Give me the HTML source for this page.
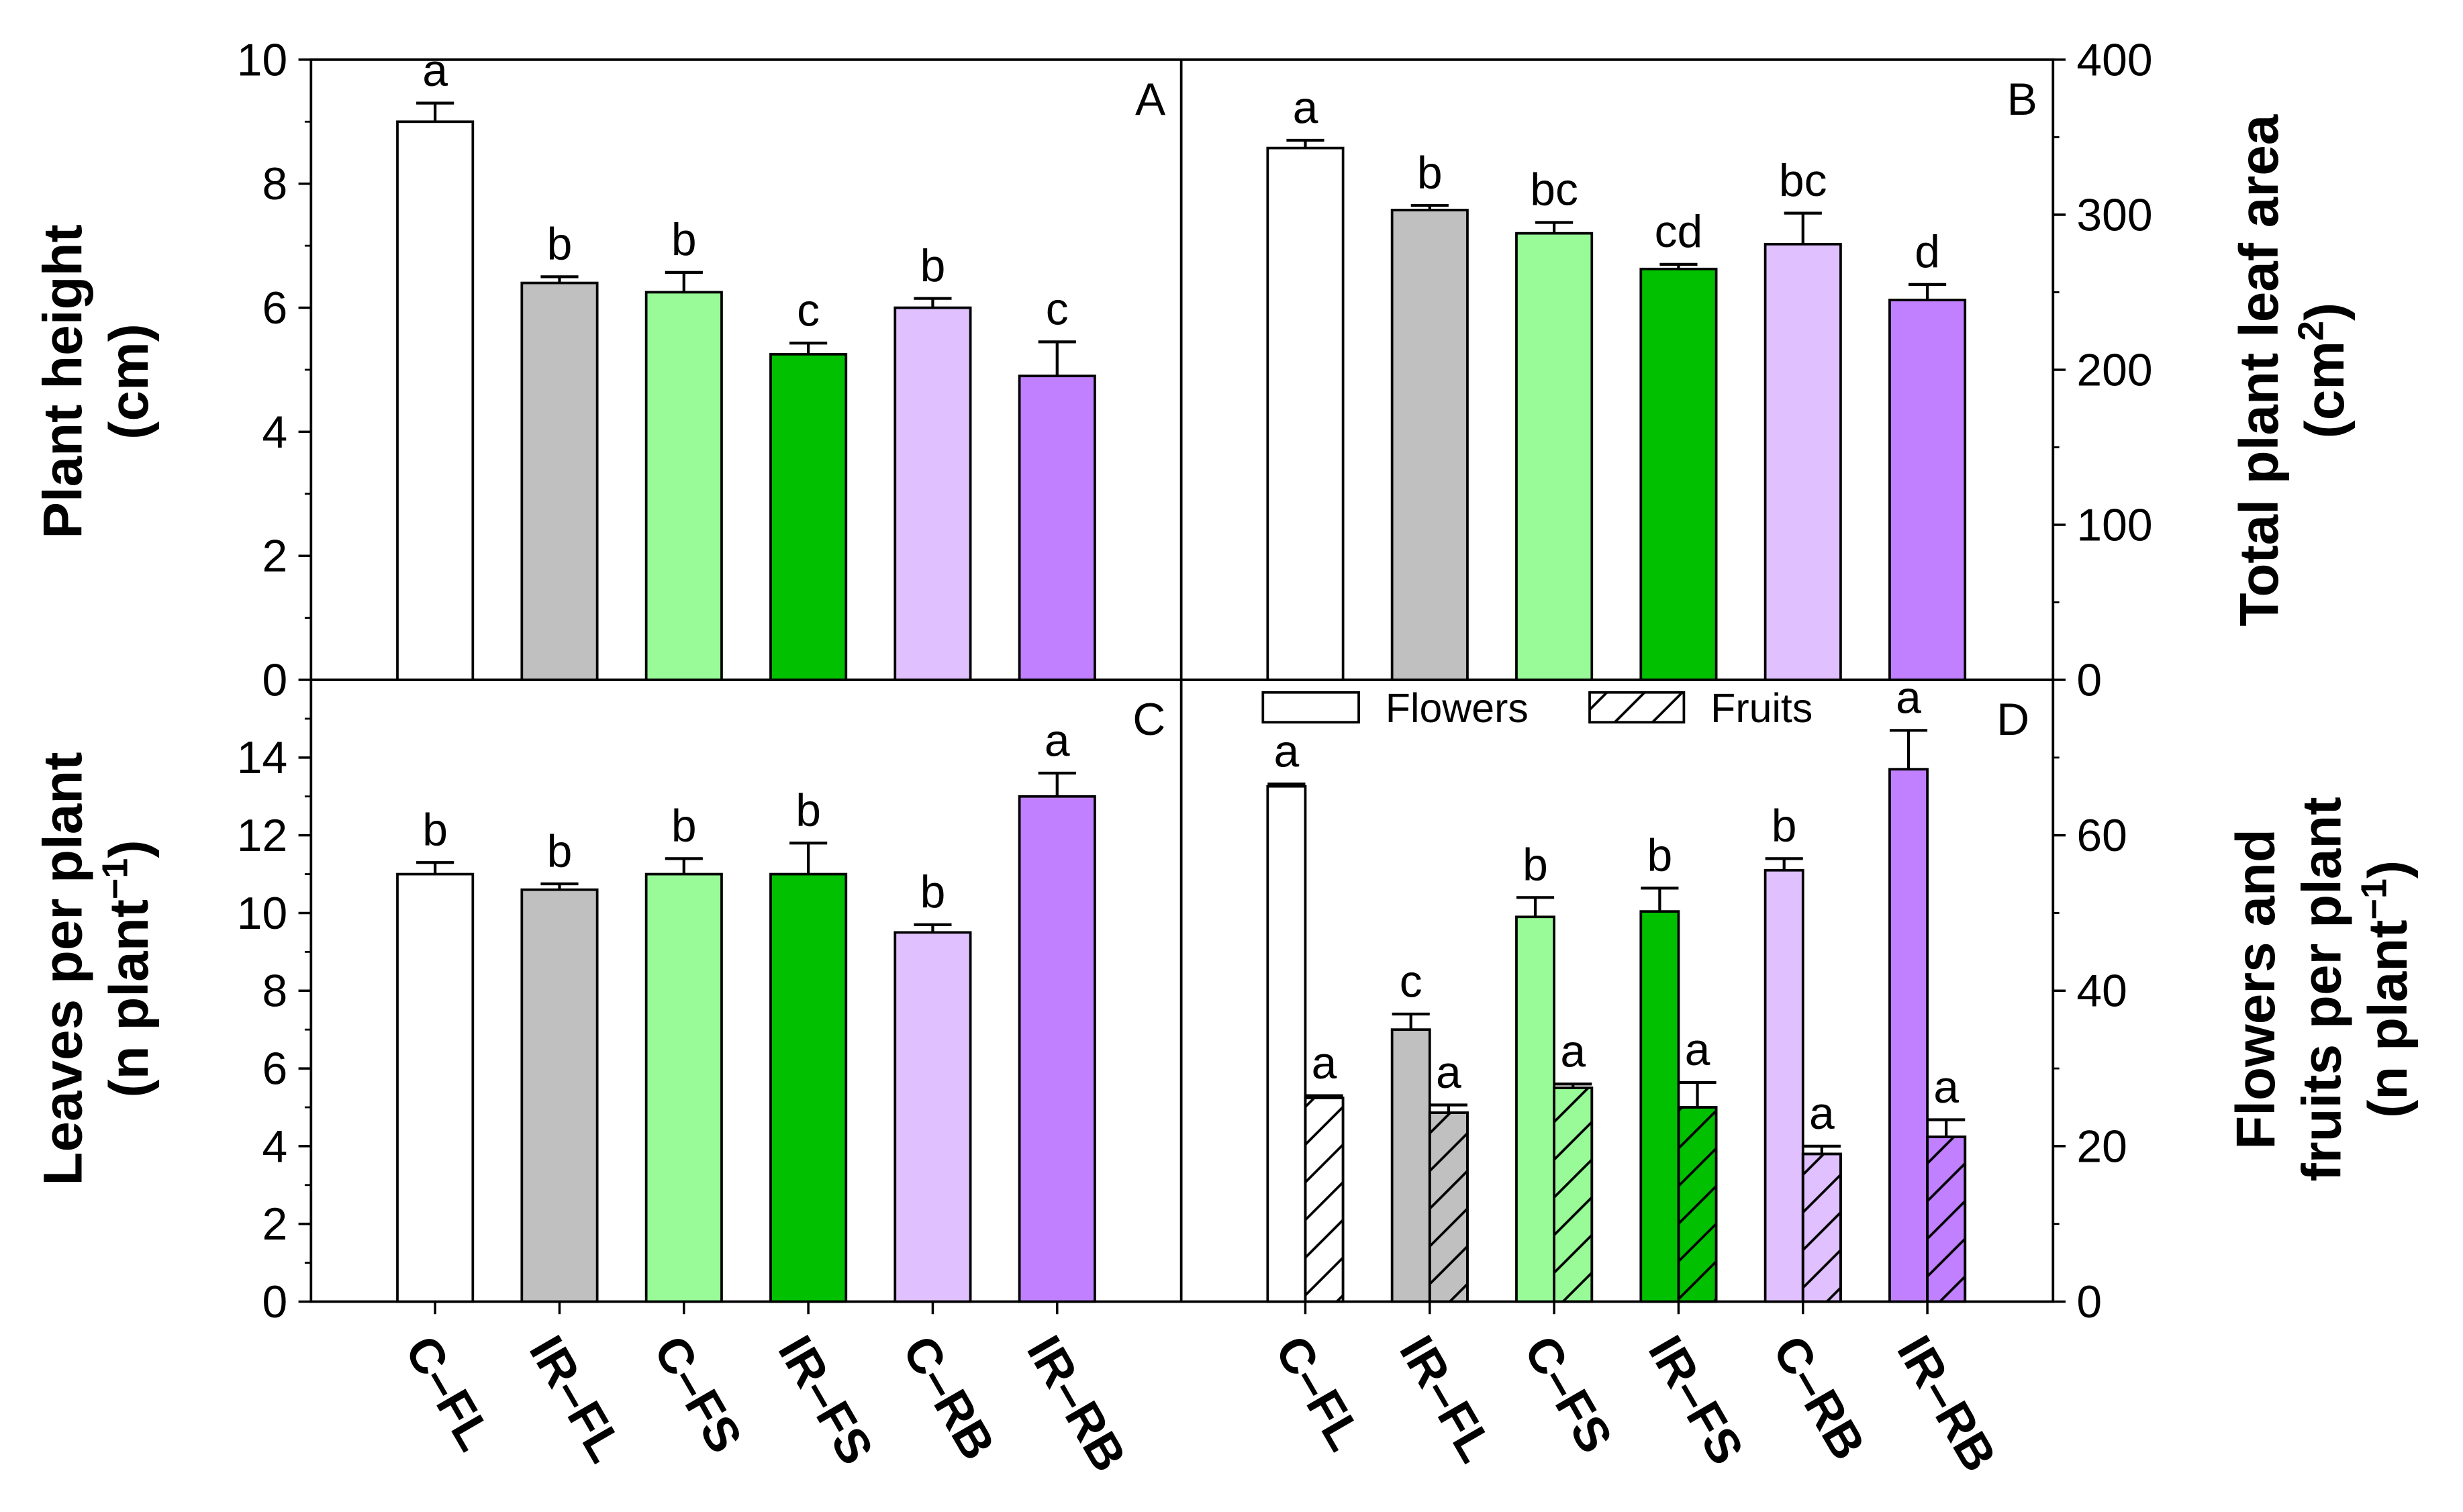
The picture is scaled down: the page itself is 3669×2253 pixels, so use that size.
<!DOCTYPE html>
<html><head><meta charset="utf-8"><style>html,body{margin:0;padding:0;background:#fff}svg{display:block}text{font-family:"Liberation Sans",Arial,sans-serif}</style></head>
<body>
<svg id="chart" width="3669" height="2253" viewBox="0 0 1568 963" preserveAspectRatio="none" xmlns="http://www.w3.org/2000/svg">
<defs>
<pattern id="hatch" patternUnits="userSpaceOnUse" width="24" height="24">
<path d="M-6,30 L30,-6 M-6,6 L6,-6 M18,30 L30,18" stroke="#000" stroke-width="1.6"/>
</pattern>
</defs>
<g id="g"></g>
</svg>
<script>
const categories = ["C–FL","IR–FL","C–FS","IR–FS","C–RB","IR–RB"];
const colors = ["#ffffff","#c0c0c0","#98fb98","#00c000","#e0c0ff","#c080ff"];
const heightVals = [9.0,6.4,6.25,5.25,6.0,4.9];
const heightErr = [0.3,0.1,0.32,0.18,0.15,0.55];
const heightLetters = ["a","b","b","c","b","c"];
const areaVals = [343,303,288,265,281,245];
const areaErr = [5,3,7,3,20,10];
const areaLetters = ["a","b","bc","cd","bc","d"];
const leavesVals = [11.0,10.6,11.0,11.0,9.5,13.0];
const leavesErr = [0.3,0.15,0.4,0.8,0.2,0.6];
const leavesLetters = ["b","b","b","b","b","a"];
const flowerVals = [66.3,35,49.5,50.2,55.5,68.5];
const flowerErr = [0.3,2,2.5,3,1.5,5];
const flowerLetters = ["a","c","b","b","b","a"];
const fruitVals = [26.2,24.3,27.5,25,19,21.2];
const fruitErr = [0.3,1,0.5,3.2,1,2.2];
const fruitLetters = ["a","a","a","a","a","a"];
const ticksA = [0,2,4,6,8,10];
const ticksB = [0,100,200,300,400];
const ticksC = [0,2,4,6,8,10,12,14];
const ticksD = [0,20,40,60];

const NS="http://www.w3.org/2000/svg";
const g=document.getElementById('g');
function el(t,a,p){const e=document.createElementNS(NS,t);for(const k in a)e.setAttribute(k,a[k]);(p||g).appendChild(e);return e;}
function txt(s,a){const e=el('text',a);e.textContent=s;return e;}
const X0=198,XM=752,X1=1307,YT=38,YM=433,YB=829;
function yScale(top,bot,max){return v=>bot-(bot-top)*v/max;}
function xCenter(px0,i){return px0+79+i*79.2;}

let f;
f=el('rect',{x:X0,y:YT,width:X1-X0,height:YB-YT,fill:'none',stroke:'#000','stroke-width':1.6});

f=el('line',{x1:XM,y1:YT,x2:XM,y2:YB,stroke:'#000','stroke-width':1.6});

f=el('line',{x1:X0,y1:YM,x2:X1,y2:YM,stroke:'#000','stroke-width':1.6});


function axisTicks(ticks,ys,side,name,minor){
  ticks.forEach(t=>{
    const y=ys(t);
    const xa=side==='left'?X0:X1;
    const d=side==='left'?-8:8;
    const l=el('line',{x1:xa,y1:y,x2:xa+d,y2:y,stroke:'#000','stroke-width':1.5});
    
    const tx=txt(String(t),{x:side==='left'?xa-15:xa+15,y:y+10,'font-size':29,'text-anchor':side==='left'?'end':'start'});
    
    if(minor!==undefined){const ym=ys(t+minor);const m=el('line',{x1:xa,y1:ym,x2:xa+d/2,y2:ym,stroke:'#000','stroke-width':1.2});}
  });
}
const yA=yScale(YT,YM,10), yB=yScale(YT,YM,400), yC=yScale(YM,YB,16), yD=yScale(YM,YB,80);
axisTicks(ticksA,yA,'left','y-axis-a',1);
axisTicks(ticksB,yB,'right','y-axis-b',50);
axisTicks(ticksC,yC,'left','y-axis-c',1);
axisTicks(ticksD,yD,'right','y-axis-d',10);

function bar(x,w,v,e,letter,ys,base,color,name,hatch){
  const y=ys(v);
  let r=el('rect',{x:x,y:y,width:w,height:base-y,fill:color,stroke:'#000','stroke-width':1.6});
  
  if(hatch){r=el('rect',{x:x,y:y,width:w,height:base-y,fill:'url(#hatch)',stroke:'#000','stroke-width':1.6});}
  const ye=ys(v+e),cx=x+w/2;
  const eb=el('path',{d:`M${cx},${y} V${ye} M${cx-12},${ye} H${cx+12}`,stroke:'#000','stroke-width':1.8,fill:'none'});
  
  const t=txt(letter,{x:cx,y:ye-11,'font-size':29,'text-anchor':'middle'});
  
}
categories.forEach((c,i)=>{
  const xa=xCenter(X0,i), xb=xCenter(XM,i);
  bar(xa-24,48,heightVals[i],heightErr[i],heightLetters[i],yA,YM,colors[i],'height-bar-'+i);
  bar(xb-24,48,areaVals[i],areaErr[i],areaLetters[i],yB,YM,colors[i],'area-bar-'+i);
  bar(xa-24,48,leavesVals[i],leavesErr[i],leavesLetters[i],yC,YB,colors[i],'leaves-bar-'+i);
  bar(xb-24,24,flowerVals[i],flowerErr[i],flowerLetters[i],yD,YB,colors[i],'flowers-bar-'+i);
  bar(xb,24,fruitVals[i],fruitErr[i],fruitLetters[i],yD,YB,colors[i],'fruits-bar-'+i,true);
  [xa,xb].forEach((x,k)=>{
    const tk=el('line',{x1:x,y1:YB,x2:x,y2:YB+8,stroke:'#000','stroke-width':1.5});
    
    const lb=txt(c,{x:0,y:0,'font-size':31,'font-weight':'bold',transform:`translate(${x-20},${YB+30}) rotate(60)`});
    
  });
});
[['A',742,73],['B',1297,73],['C',742,468],['D',1292,468]].forEach(p=>{const t=txt(p[0],{x:p[1],y:p[2],'font-size':29,'text-anchor':'end'});});
let lg=el('rect',{x:804,y:441,width:61,height:19,fill:'#fff',stroke:'#000','stroke-width':1.6});
lg=txt('Flowers',{x:882,y:460,'font-size':26});
lg=el('rect',{x:1012,y:441,width:60,height:19,fill:'url(#hatch)',stroke:'#000','stroke-width':1.6});
lg=txt('Fruits',{x:1089,y:460,'font-size':26});
function title(lines,x,y,rot,name){const t=el('text',{transform:`translate(${x},${y}) rotate(${rot})`,'font-size':35,'font-weight':'bold','text-anchor':'middle'});lines.forEach((l,i)=>{const s=el('tspan',{x:0,dy:i?42:0},t);s.innerHTML=l;});}
title(['Plant height','(cm)'],52,243,-90,'y-axis-title-a');
title(['Total plant leaf area','(cm<tspan font-size="23" dy="-13">2</tspan><tspan dy="13">)</tspan>'],1450,236,-90,'y-axis-title-b');
title(['Leaves per plant','(n plant<tspan font-size="23" dy="-13">−1</tspan><tspan dy="13">)</tspan>'],52,617,-90,'y-axis-title-c');
title(['Flowers and','fruits per plant','(n plant<tspan font-size="23" dy="-13">−1</tspan><tspan dy="13">)</tspan>'],1448,630,-90,'y-axis-title-d');
</script>
</body></html>
